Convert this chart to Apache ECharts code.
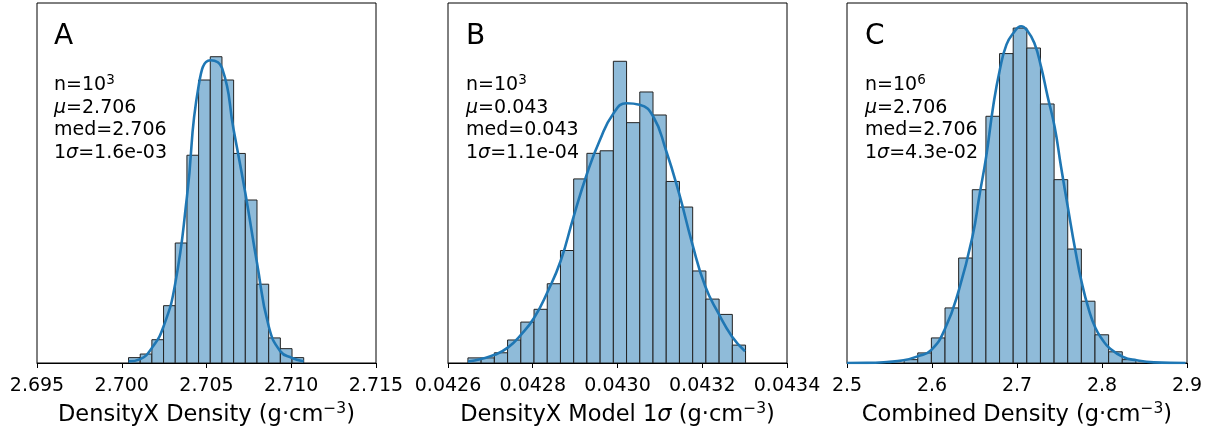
<!DOCTYPE html>
<html>
<head>
<meta charset="utf-8">
<script src="https://cdn.jsdelivr.net/npm/echarts@6/dist/echarts.min.js"></script>
<style>
html,body{margin:0;padding:0;background:#fff;}
#chart{width:1214px;height:435px;}
</style>
</head>
<body>
<div id="chart"></div>
<script>
// ---------- Panel A: DensityX Density ----------
const A_binStart = 2.7004;
const A_binWidth = 0.000689;
const A_counts = [3, 5, 13, 32, 67, 116, 158, 171, 158, 117, 91, 44, 14, 8, 3];
const A_kdeX = [2.70040, 2.70109, 2.70178, 2.70247, 2.70316, 2.70385, 2.70454, 2.70523, 2.70592, 2.70660, 2.70729, 2.70798, 2.70867, 2.70936, 2.71005, 2.71073];
const A_kdeY = [0.9, 2.2, 8.4, 20.5, 44.6, 93.0, 155.0, 169.0, 164.6, 130.2, 94.9, 55.8, 20.5, 6.5, 2.8, 0.9];
const A_ticks = {min: 2.695, max: 2.715, interval: 0.005, digits: 3};
const A_stats = ['3', '2.706', '2.706', '1.6e-03'];

// ---------- Panel B: DensityX Model 1 sigma ----------
const B_binStart = 0.042647;
const B_binWidth = 0.0000312;
const B_counts = [2, 2, 4, 9, 16, 21, 31, 44, 72, 82, 83, 118, 94, 106, 97, 71, 61, 36, 25, 19, 7];
const B_kdeX = [0.042647, 0.042678, 0.042710, 0.042741, 0.042772, 0.042803, 0.042834, 0.042866, 0.042896, 0.042928, 0.042958, 0.042990, 0.043021, 0.043052, 0.043084, 0.043114, 0.043145, 0.043176, 0.043207, 0.043238, 0.043270, 0.043301];
const B_kdeY = [0.6, 1.6, 3.2, 6.0, 11.0, 17.6, 27.5, 40.0, 57.0, 74.0, 87.0, 97.5, 101.6, 101.0, 96.5, 83.4, 66.5, 46.9, 30.0, 19.5, 10.4, 4.6];
const B_ticks = {min: 0.0426, max: 0.0434, interval: 0.0002, digits: 4};
const B_stats = ['3', '0.043', '0.043', '1.1e-04'];

// ---------- Panel C: Combined Density ----------
const C_binStart = 2.5672;
const C_binWidth = 0.01604;
const C_counts = [1500, 4500, 11200, 24600, 46900, 77400, 110200, 138200, 149600, 140700, 115700, 81900, 50900, 27600, 12600, 5000, 1500];
const C_kdeX = [2.5, 2.5234, 2.5469, 2.5665, 2.5832, 2.5993, 2.6157, 2.6317, 2.6477, 2.6563, 2.6638, 2.6720, 2.6798, 2.6876, 2.6958, 2.7048, 2.7126, 2.7204, 2.7282, 2.7360, 2.7442, 2.7517, 2.7603, 2.7685, 2.7763, 2.7845, 2.7923, 2.8005, 2.8087, 2.8248, 2.8408, 2.8611, 2.8983];
const C_kdeY = [0, 50, 450, 1200, 3000, 5900, 15600, 32700, 56600, 75900, 92300, 114700, 131000, 142200, 147400, 150400, 148200, 142900, 132500, 119100, 105600, 87900, 68500, 50600, 35700, 23800, 15600, 10400, 6700, 2700, 1200, 300, 0];
const C_ticks = {min: 2.5, max: 2.9, interval: 0.1, digits: 1};
const C_stats = ['6', '2.706', '2.706', '4.3e-02'];

const letters = ['A', 'B', 'C'];
const xNames = [
  'DensityX Density (g·cm{sup|−3})',
  'DensityX Model 1{i|σ} (g·cm{sup|−3})',
  'Combined Density (g·cm{sup|−3})'
];

const FONT = 'DejaVu Sans';
const BLUE = '#1f77b4';
const FILL = '#8fbbd9';

const panels = [
  {binStart: A_binStart, binWidth: A_binWidth, counts: A_counts, kx: A_kdeX, ky: A_kdeY, ticks: A_ticks, stats: A_stats, yMax: 201, left: 37, width: 339},
  {binStart: B_binStart, binWidth: B_binWidth, counts: B_counts, kx: B_kdeX, ky: B_kdeY, ticks: B_ticks, stats: B_stats, yMax: 140.8, left: 448, width: 339},
  {binStart: C_binStart, binWidth: C_binWidth, counts: C_counts, kx: C_kdeX, ky: C_kdeY, ticks: C_ticks, stats: C_stats, yMax: 160800, left: 847, width: 340}
];

const richBase = {
  sup: {fontSize: 13.5, lineHeight: 12, verticalAlign: 'top', fontFamily: FONT, color: '#000'},
  i: {fontStyle: 'italic', fontSize: 19, lineHeight: 23, fontFamily: FONT, color: '#000'},
  n: {fontSize: 19, lineHeight: 23, fontFamily: FONT, color: '#000'}
};

const grids = [], xAxes = [], yAxes = [], series = [], graphics = [];
panels.forEach((p, i) => {
  grids.push({left: p.left, top: 3, width: p.width, height: 360, show: true, borderColor: '#000', borderWidth: 1, backgroundColor: 'transparent', containLabel: false});
  xAxes.push({
    type: 'value', gridIndex: i, min: p.ticks.min, max: p.ticks.max, interval: p.ticks.interval,
    axisLine: {show: true, onZero: false, lineStyle: {color: '#000', width: 1}},
    axisTick: {show: true, length: 5, inside: false, lineStyle: {color: '#000', width: 1}},
    splitLine: {show: false},
    axisLabel: {fontSize: 19, color: '#000', fontFamily: FONT, margin: 14, showMinLabel: true, showMaxLabel: true, hideOverlap: false,
      formatter: v => v.toFixed(p.ticks.digits)},
    name: xNames[i], nameLocation: 'middle', nameGap: 35,
    nameTextStyle: {fontSize: 22.5, color: '#000', fontFamily: FONT, lineHeight: 28,
      rich: {
        sup: {fontSize: 15.5, lineHeight: 14, verticalAlign: 'top', fontFamily: FONT, color: '#000'},
        i: {fontStyle: 'italic', fontSize: 22.5, lineHeight: 28, fontFamily: FONT, color: '#000'}
      }}
  });
  yAxes.push({type: 'value', gridIndex: i, min: 0, max: p.yMax, show: false, splitLine: {show: false}});

  const histData = p.counts.map((c, k) => [p.binStart + k * p.binWidth, p.binStart + (k + 1) * p.binWidth, c]);
  series.push({
    type: 'custom', xAxisIndex: i, yAxisIndex: i, data: histData, clip: true,
    encode: {x: [0, 1], y: 2},
    renderItem: (params, api) => {
      const p0 = api.coord([api.value(0), api.value(2)]);
      const p1 = api.coord([api.value(1), 0]);
      return {
        type: 'rect',
        shape: {x: p0[0], y: p0[1], width: p1[0] - p0[0], height: p1[1] - p0[1]},
        style: {fill: FILL, stroke: '#222', lineWidth: 1}
      };
    },
    z: 2
  });
  series.push({
    type: 'line', xAxisIndex: i, yAxisIndex: i, data: p.kx.map((x, k) => [x, p.ky[k]]),
    smooth: 0.5, showSymbol: false, symbol: 'none',
    lineStyle: {color: BLUE, width: 2.6}, z: 3, animation: false
  });

  const tx = p.left + (i === 0 ? 17 : 18);
  graphics.push({type: 'text', left: tx, top: 23, z: 10, style: {text: letters[i], font: '28px "DejaVu Sans"', fill: '#000'}});
  const lines = [
    '{n|n=10}{sup|' + p.stats[0] + '}',
    '{i|μ}{n|=' + p.stats[1] + '}',
    '{n|med=' + p.stats[2] + '}',
    '{n|1}{i|σ}{n|=' + p.stats[3] + '}'
  ];
  lines.forEach((t, k) => {
    graphics.push({type: 'text', x: tx, y: 85 + k * 22.7, z: 10,
      style: {text: t, rich: richBase, verticalAlign: 'middle', align: 'left', fontFamily: FONT, fontSize: 19, fill: '#000'}});
  });
});

const chart = echarts.init(document.getElementById('chart'), null, {renderer: 'canvas'});
chart.setOption({
  animation: false,
  backgroundColor: '#fff',
  grid: grids,
  xAxis: xAxes,
  yAxis: yAxes,
  series: series,
  graphic: graphics
});
</script>
</body>
</html>
